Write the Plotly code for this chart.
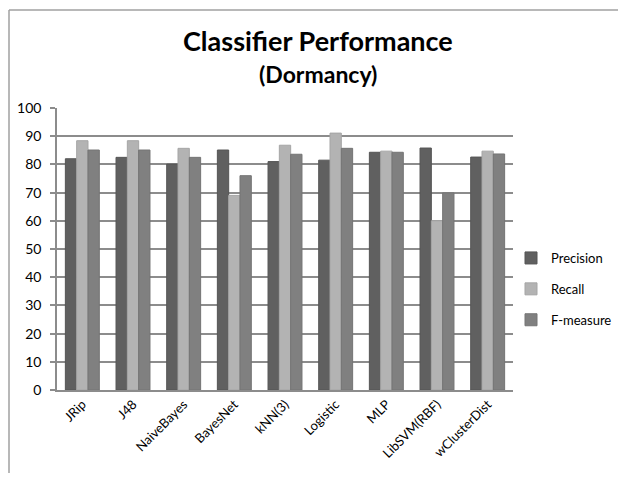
import plotly.graph_objects as go

categories = ["JRip", "J48", "NaiveBayes", "BayesNet", "kNN(3)", "Logistic", "MLP", "LibSVM(RBF)", "wClusterDist"]
precision = [82.0, 82.5, 80.1, 85.1, 81.0, 81.5, 84.3, 85.8, 82.6]
recall = [88.4, 88.4, 85.7, 69.0, 86.8, 91.1, 84.7, 60.0, 84.7]
f_measure = [85.1, 85.1, 82.5, 76.0, 83.6, 85.7, 84.3, 69.9, 83.7]
y_ticks = [0, 10, 20, 30, 40, 50, 60, 70, 80, 90, 100]

FONT = "Lato"
W, H = 618, 465
L, R, T, B = 49, 113, 100, 83
pw, ph = W - L - R, H - T - B

def px_x(x):
    return (x - L) / pw

def px_y(y):
    return (H - B - y) / ph

fig = go.Figure()
for i, (name, vals, col, edge) in enumerate([
    ("Precision", precision, "#606060", "#555555"),
    ("Recall", recall, "#b3b3b3", "#a5a5a5"),
    ("F-measure", f_measure, "#808080", "#747474"),
]):
    fig.add_trace(go.Bar(x=categories, y=vals, name=name, legendgroup=f"g{i}",
                         marker=dict(color=col, line=dict(color=edge, width=1))))

fig.update_layout(
    width=W, height=H,
    margin=dict(l=L, r=R, t=T, b=B, autoexpand=False),
    paper_bgcolor="white", plot_bgcolor="white",
    font=dict(family=FONT, size=13, color="black"),
    barmode="group", bargap=0.33, bargroupgap=0.0,
    showlegend=True,
    legend=dict(x=px_x(503), y=px_y(281), xanchor="left", yanchor="middle",
                font=dict(size=13), tracegroupgap=11, itemwidth=30,
                traceorder="grouped", bgcolor="rgba(0,0,0,0)"),
    xaxis=dict(showline=True, linecolor="#8c8c8c", linewidth=1.5,
               tickangle=-45, ticks="", tickfont=dict(size=13),
               showgrid=False),
    yaxis=dict(range=[0, 100], tickvals=y_ticks, showline=True,
               linecolor="#8c8c8c", linewidth=1.5, ticks="outside",
               ticklen=5, tickcolor="#8c8c8c", tickwidth=1.5,
               showgrid=True, gridcolor="#8c8c8c", gridwidth=1.5,
               tickfont=dict(size=14), zeroline=False, ticklabelstandoff=6),
    annotations=[
        dict(text="<b>Classifier Performance</b>", x=px_x(310), y=px_y(32),
             xref="paper", yref="paper", xanchor="center", yanchor="middle",
             showarrow=False, font=dict(size=27, family=FONT)),
        dict(text="<b>(Dormancy)</b>", x=px_x(310), y=px_y(66),
             xref="paper", yref="paper", xanchor="center", yanchor="middle",
             showarrow=False, font=dict(size=23, family=FONT)),
    ],
)

# chart frame (top and left border)
fig.add_shape(type="line", xref="paper", yref="paper", x0=px_x(1), x1=px_x(W), y0=px_y(2), y1=px_y(2),
              line=dict(color="#a0a0a0", width=1.5))
fig.add_shape(type="line", xref="paper", yref="paper", x0=px_x(1), x1=px_x(1), y0=px_y(2), y1=px_y(H),
              line=dict(color="#a0a0a0", width=1.5))

fig.write_html("out.html")
